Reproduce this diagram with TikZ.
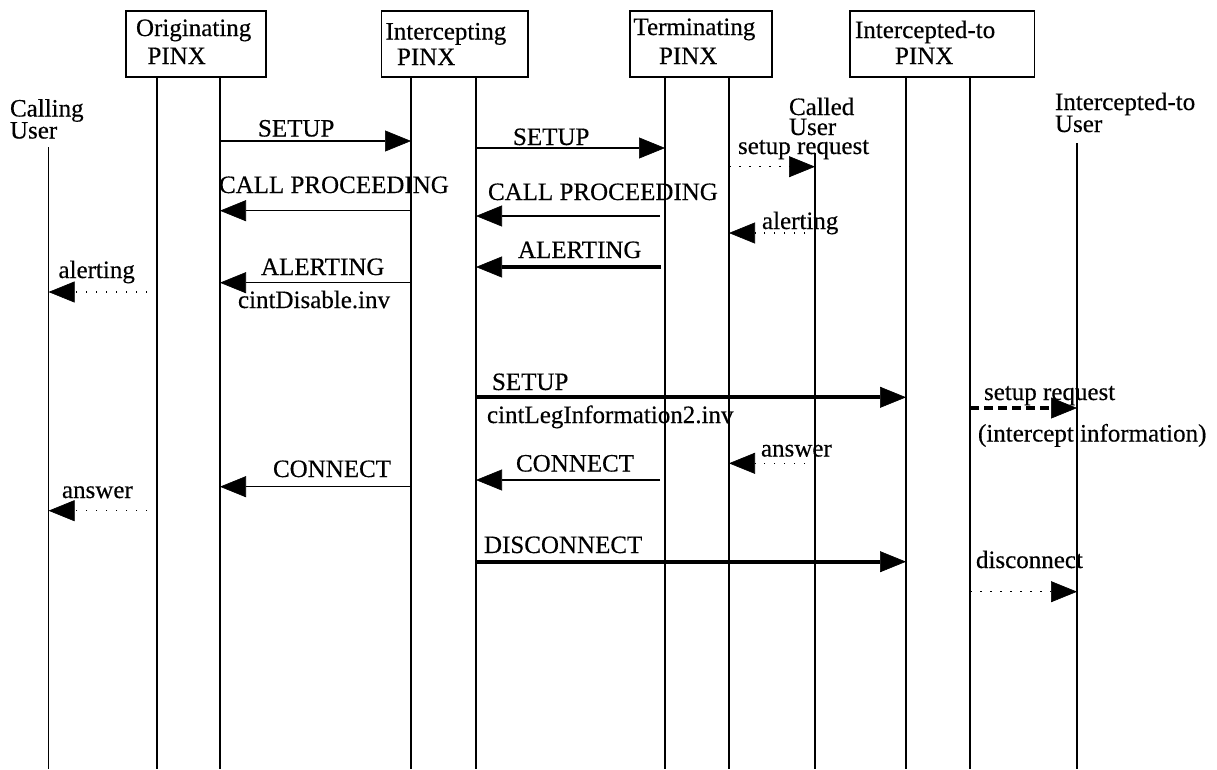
\documentclass[tikz,border=0pt]{standalone}
\usepackage{fontspec}
\setmainfont{Liberation Serif}[FakeBold=0.35]
\usetikzlibrary{arrows.meta,calc}
\begin{document}
\begin{tikzpicture}[x=1pt,y=-1pt,
  every node/.style={inner sep=0pt,outer sep=0pt},
  lbl/.style={anchor=base west,font=\fontsize{25}{27}\selectfont},
  ulbl/.style={anchor=base west,align=left},
  box/.style={draw,line width=1.3pt,anchor=north west},
  life/.style={line width=1.3pt},
  tip/.style={-{Triangle[length=26pt,width=21pt,line width=0.6pt]}},
  msg/.style={tip,line width=1.3pt},
  boldmsg/.style={tip,line width=4pt},
  dotmsg/.style={tip,line width=1.3pt,dash pattern=on 1.5pt off 8.5pt},
  dashmsg/.style={tip,line width=3.5pt,dash pattern=on 9pt off 5pt}
]
\fill[white] (0,0) rectangle (1217,769);
\useasboundingbox (0,0) rectangle (1217,769);

% lifeline x positions
\coordinate (CU) at (48.6,0);
\coordinate (O1) at (157,0);
\coordinate (O2) at (220,0);
\coordinate (I1) at (411,0);
\coordinate (I2) at (476,0);
\coordinate (T1) at (665,0);
\coordinate (T2) at (729,0);
\coordinate (CD) at (815,0);
\coordinate (X1) at (906,0);
\coordinate (X2) at (970,0);
\coordinate (XU) at (1077,0);

% boxes
\node[box,minimum width=140pt,minimum height=66pt] (bO) at (126,11) {};
\node[box,minimum width=146.4pt,minimum height=66pt] (bI) at (381.6,11) {};
\node[box,minimum width=142pt,minimum height=66pt] (bT) at (630,11) {};
\node[box,minimum width=184.5pt,minimum height=66pt] (bX) at (850,11) {};

\node[lbl] (tO1) at (136,36) {Originating};
\node[lbl] (tO2) at (147.5,64) {PINX};
\node[lbl] (tI1) at (385.5,39.5) {Intercepting};
\node[lbl] (tI2) at (397,65) {PINX};
\node[lbl] (tT1) at (633.5,35) {Terminating};
\node[lbl] (tT2) at (659,64) {PINX};
\node[lbl] (tX1) at (855,38) {Intercepted-to};
\node[lbl] (tX2) at (895,64) {PINX};

% user labels (anchored at the baseline of their last line)
\node[ulbl,font=\fontsize{25}{22}\selectfont] (uC) at (10,138.5) {Calling\\User};
\node[ulbl,font=\fontsize{25}{20}\selectfont] (uD) at (789,135) {Called\\User};
\node[ulbl,font=\fontsize{25}{22}\selectfont] (uX) at (1055,132) {Intercepted-to\\User};

% lifelines
\draw[life] (O1 |- bO.south) -- (O1 |- 0,769);
\draw[life] (O2 |- bO.south) -- (O2 |- 0,769);
\draw[life] (I1 |- bI.south) -- (I1 |- 0,769);
\draw[life] (I2 |- bI.south) -- (I2 |- 0,769);
\draw[life] (T1 |- bT.south) -- (T1 |- 0,769);
\draw[life] (T2 |- bT.south) -- (T2 |- 0,769);
\draw[life] (X1 |- bX.south) -- (X1 |- 0,769);
\draw[life] (X2 |- bX.south) -- (X2 |- 0,769);
\draw[life] (CU |- 0,147) -- (CU |- 0,769);
\draw[life] (CD |- 0,153) -- (CD |- 0,769);
\draw[life] (XU |- 0,143) -- (XU |- 0,769);

% messages
\draw[msg] (O2 |- 0,141) -- (I1 |- 0,141);
\node[lbl] (m1) at (258,136.5) {SETUP};

\draw[msg] (I2 |- 0,148) -- (T1 |- 0,148);
\node[lbl] (m2) at (513,145) {SETUP};

\draw[dotmsg] (T2 |- 0,166.7) -- (CD |- 0,166.7);
\node[lbl] (m3) at (738,154) {setup request};

\draw[msg] (I1 |- 0,210.7) -- (O2 |- 0,210.7);
\node[lbl] (m4) at (219,193) {CALL PROCEEDING};

\draw[msg] ($(T1 |- 0,216)+(-5,0)$) -- (I2 |- 0,216);
\node[lbl] (m5) at (488,200) {CALL PROCEEDING};

\draw[dotmsg] (CD |- 0,233) -- (T2 |- 0,233);
\node[lbl] (m6) at (762,229) {alerting};

\draw[boldmsg] ($(T1 |- 0,267)+(-4,0)$) -- (I2 |- 0,267);
\node[lbl] (m7) at (518,258) {ALERTING};

\draw[msg] (I1 |- 0,282.7) -- (O2 |- 0,282.7);
\node[lbl] (m8) at (261,275) {ALERTING};
\node[lbl] (m8b) at (238,308) {cintDisable.inv};

\draw[dotmsg] (O1 |- 0,292) -- (CU |- 0,292);
\node[lbl] (m9) at (58.5,278) {alerting};

\draw[boldmsg] (I2 |- 0,397.3) -- (X1 |- 0,397.3);
\node[lbl] (m10) at (492,390) {SETUP};
\node[lbl] (m10b) at (487,423) {cintLegInformation2.inv};

\draw[dashmsg] (X2 |- 0,408) -- (XU |- 0,408);
\node[lbl] (m11) at (984,400) {setup request};
\node[lbl] (m11b) at (978,441.5) {(intercept information)};

\draw[dotmsg] (CD |- 0,463.3) -- (T2 |- 0,463.3);
\node[lbl] (m12) at (761,456.5) {answer};

\draw[msg] ($(T1 |- 0,480)+(-5,0)$) -- (I2 |- 0,480);
\node[lbl] (m13) at (516,471.5) {CONNECT};

\draw[msg] (I1 |- 0,486.7) -- (O2 |- 0,486.7);
\node[lbl] (m14) at (273,477) {CONNECT};

\draw[dotmsg] (O1 |- 0,510.7) -- (CU |- 0,510.7);
\node[lbl] (m15) at (62,498) {answer};

\draw[boldmsg] (I2 |- 0,561.7) -- (X1 |- 0,561.7);
\node[lbl] (m16) at (484,553) {DISCONNECT};

\draw[dotmsg] (X2 |- 0,591.7) -- (XU |- 0,591.7);
\node[lbl] (m17) at (976,568) {disconnect};
\end{tikzpicture}
\end{document}
